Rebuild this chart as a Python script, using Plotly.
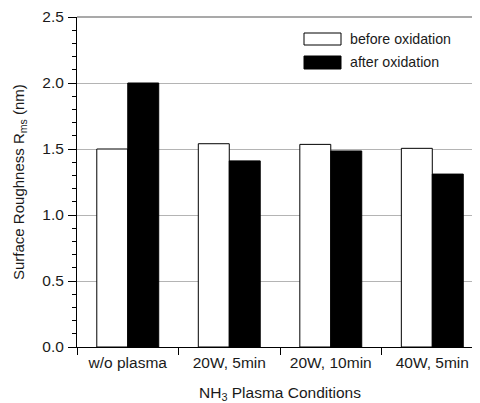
import plotly.graph_objects as go

categories = ["w/o plasma", "20W, 5min", "20W, 10min", "40W, 5min"]
before_oxidation = [1.50, 1.54, 1.535, 1.505]
after_oxidation = [2.00, 1.41, 1.485, 1.31]
series_names = ["before oxidation", "after oxidation"]

# page has an 8px body margin, so the figure is sized to fit inside it
OFF = 8
W, H = 480 - OFF, 403 - OFF
L, R, T, B = 77 - OFF, 0, 17 - OFF, 403 - 347
PW, PH = W - L - R, H - T - B

def px_x(x):
    return (x - OFF - L) / PW

def px_y(y):
    return (H - B - (y - OFF)) / PH

FONT = "Liberation Sans, Arial, sans-serif"
FS_TICK = 15.5
FS_LEG = 14.2
FS_YT = 15
FS_XT = 15.5
TXT = "#1a1a1a"

fig = go.Figure()
fig.add_trace(go.Bar(x=categories, y=before_oxidation, name=series_names[0],
                     marker=dict(color="white", line=dict(color="black", width=1)),
                     showlegend=False))
fig.add_trace(go.Bar(x=categories, y=after_oxidation, name=series_names[1],
                     marker=dict(color="black", line=dict(color="black", width=1)),
                     showlegend=False))

# manual legend
shapes = [
    dict(type="rect", xref="paper", yref="paper",
         x0=px_x(304), x1=px_x(341), y0=px_y(45), y1=px_y(33),
         fillcolor="white", line=dict(color="black", width=1)),
    dict(type="rect", xref="paper", yref="paper",
         x0=px_x(304), x1=px_x(341), y0=px_y(69), y1=px_y(56),
         fillcolor="black", line=dict(color="black", width=1)),
    # top frame line
    dict(type="line", xref="paper", yref="paper", x0=0, x1=1, y0=1, y1=1,
         line=dict(color="#555555", width=1.2)),
]
annotations = [
    dict(text=series_names[0], xref="paper", yref="paper", x=px_x(348), y=px_y(39),
         xanchor="left", yanchor="middle", showarrow=False,
         font=dict(family=FONT, size=FS_LEG, color=TXT)),
    dict(text=series_names[1], xref="paper", yref="paper", x=px_x(348), y=px_y(62),
         xanchor="left", yanchor="middle", showarrow=False,
         font=dict(family=FONT, size=FS_LEG, color=TXT)),
    dict(text="Surface Roughness R<sub>ms</sub> (nm)", xref="paper", yref="paper",
         x=px_x(19), y=px_y(182), textangle=-90, xanchor="center", yanchor="middle",
         showarrow=False, font=dict(family=FONT, size=FS_YT, color=TXT)),
    dict(text="NH<sub>3</sub> Plasma Conditions", xref="paper", yref="paper",
         x=px_x(280), y=px_y(393), xanchor="center", yanchor="middle",
         showarrow=False, font=dict(family=FONT, size=FS_XT, color=TXT)),
]

fig.update_layout(
    width=W, height=H,
    margin=dict(l=L, r=R, t=T, b=B, pad=0, autoexpand=False),
    paper_bgcolor="white", plot_bgcolor="white",
    barmode="group", bargap=0.39, bargroupgap=0,
    font=dict(family=FONT, size=FS_TICK, color=TXT),
    shapes=shapes, annotations=annotations,
    xaxis=dict(
        range=[-0.5, 3.47], automargin=False,
        showline=True, linecolor="black", linewidth=1,
        ticks="outside", tickson="boundaries", ticklen=7, tickcolor="black",
        ticklabelstandoff=1,
        showgrid=False, zeroline=False,
        tickfont=dict(family=FONT, size=FS_TICK, color=TXT),
    ),
    yaxis=dict(
        range=[0, 2.5], dtick=0.5, tickformat=".1f", automargin=False,
        showline=True, linecolor="black", linewidth=1,
        ticks="outside", ticklen=8, tickcolor="black",
        ticklabelstandoff=1,
        minor=dict(dtick=0.1, ticks="outside", ticklen=4, tickcolor="black", showgrid=False),
        showgrid=True, gridcolor="#b4b4b4", gridwidth=1,
        zeroline=False,
        tickfont=dict(family=FONT, size=FS_TICK, color=TXT),
    ),
)

fig.write_html("out.html")
